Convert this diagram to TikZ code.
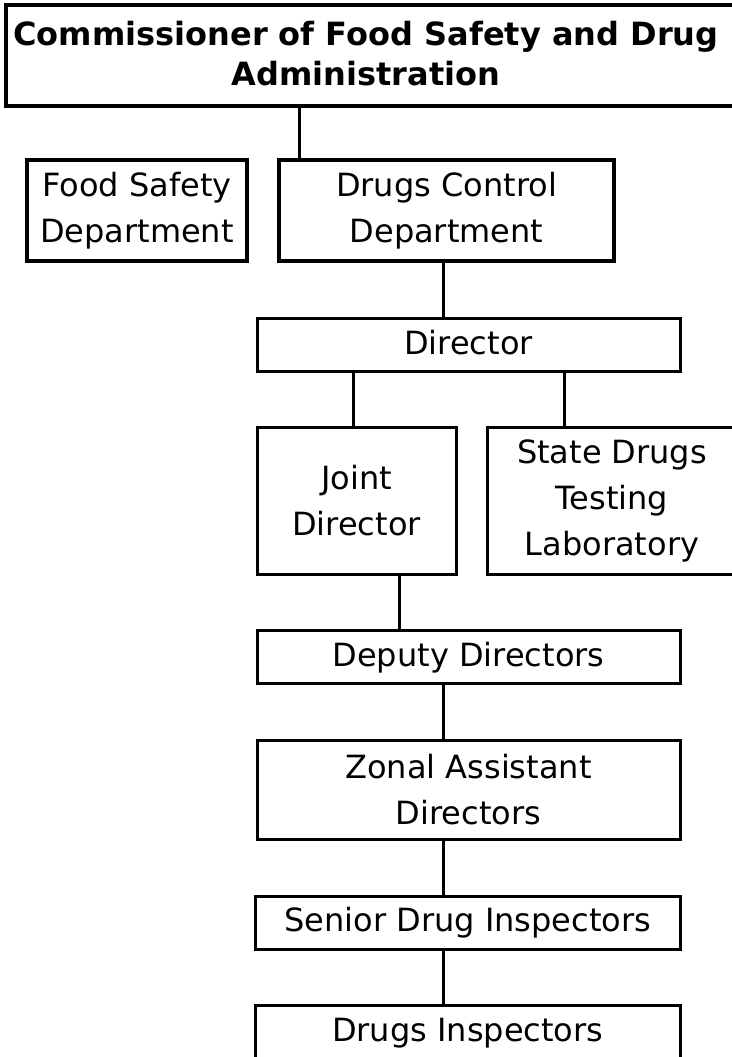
\documentclass[tikz,border=0pt]{standalone}
\usepackage{fontspec}
\setmainfont{DejaVu Sans}

\begin{document}
\begin{tikzpicture}[x=1pt, y=-1pt,
  font=\fontsize{32}{46}\selectfont,
  unit/.style={draw, line width=3pt, inner sep=0pt, align=center},
  topunit/.style={unit, line width=4pt},
  oneline/.style={text height=24pt, text depth=6pt},
  link/.style={line width=3pt}]
  \useasboundingbox (0,0) rectangle (731,1057);
  % commissioner, the frame runs past the right edge
  \node[topunit, anchor=north west, minimum width=800, minimum height=101]
    (commbox) at (3.5,3) {};
  \node[font=\bfseries\fontsize{32}{40}\selectfont, align=center, inner sep=0pt]
    (comm) at (366,54) {Commissioner of Food Safety and Drug\\Administration};
  % departments
  \node[topunit, minimum width=220, minimum height=101] (fsd) at (137,210.5)
    {Food Safety\\Department};
  \node[topunit, minimum width=335, minimum height=101] (dcd) at (446.5,210.5)
    {Drugs Control\\Department};
  % drugs control side
  \node[unit, oneline, minimum width=423, minimum height=53] (dir) at (468.5,345) {Director};
  \node[unit, minimum width=199, minimum height=146.5] (jd) at (356.5,501)
    {Joint\\Director};
  \node[unit, minimum width=249, minimum height=146.5] (sdtl) at (612,501)
    {State Drugs\\Testing\\Laboratory};
  \node[unit, oneline, minimum width=423, minimum height=53.5] (dep) at (468.5,657)
    {Deputy Directors};
  \node[unit, minimum width=423, minimum height=99] (zad) at (468.5,790)
    {Zonal Assistant\\Directors};
  \node[unit, oneline, minimum width=424.5, minimum height=53.5] (sdi) at (467.75,922.75)
    {Senior Drug Inspectors};
  \node[unit, oneline, minimum width=424.5, minimum height=53.5] (di) at (467.75,1032.25)
    {Drugs Inspectors};
  % links
  \draw[link] (299,0 |- commbox.south) -- (299,0 |- dcd.north);
  \draw[link] (443,0 |- dcd.south) -- (443,0 |- dir.north);
  \draw[link] (353,0 |- dir.south) -- (353,0 |- jd.north);
  \draw[link] (564.5,0 |- dir.south) -- (564.5,0 |- sdtl.north);
  \draw[link] (399.5,0 |- jd.south) -- (399.5,0 |- dep.north);
  \foreach \a/\b in {dep/zad, zad/sdi, sdi/di} {
    \draw[link] (443.5,0 |- \a.south) -- (443.5,0 |- \b.north);
  }
\end{tikzpicture}
\end{document}
